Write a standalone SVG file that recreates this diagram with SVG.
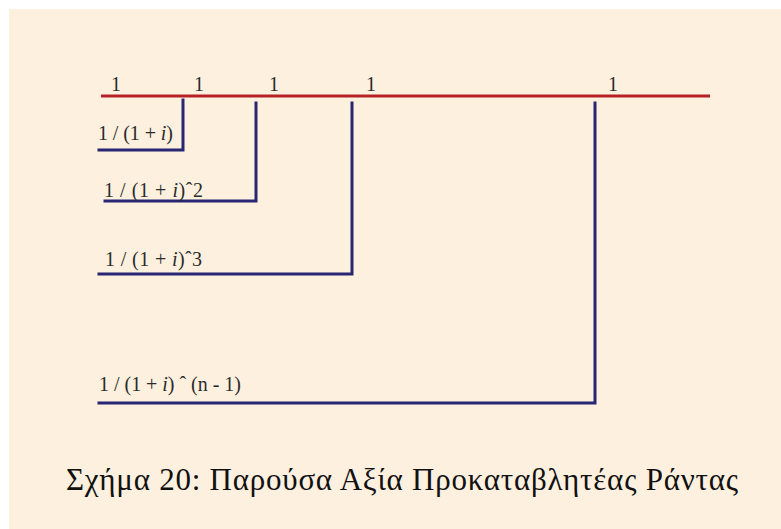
<svg xmlns="http://www.w3.org/2000/svg" width="781" height="529" viewBox="0 0 781 529">
<style>
.bg{fill:#fdf0df}
.red{stroke:#b52126;stroke-width:3;fill:none}
.blue{stroke:#282672;stroke-width:3;fill:none;stroke-linecap:square}
.lbl{font-family:"Liberation Serif","Times New Roman",serif;font-size:20px;fill:#2b2b2b}
.cap{font-family:"Liberation Serif","DejaVu Serif",serif;font-size:31px;fill:#111}
</style>
<rect x="0" y="0" width="781" height="529" fill="#ffffff"/>
<rect class="bg" x="9" y="9" width="772" height="520"/>
<g id="connectors">
<line class="red" x1="101" y1="96" x2="710" y2="96"/>
<polyline class="blue" points="183,100 183,150 99,150"/>
<polyline class="blue" points="256,103 256,201 105,201"/>
<polyline class="blue" points="352,103 352,274 99,274"/>
<polyline class="blue" points="595,103 595,403 99,403"/>
</g>
<g id="payments">
<text class="lbl" x="111" y="91">1</text>
<text class="lbl" x="194" y="91">1</text>
<text class="lbl" x="269" y="91">1</text>
<text class="lbl" x="366" y="91">1</text>
<text class="lbl" x="608" y="91">1</text>
</g>
<g id="label1"><text class="lbl" x="98" y="140" textLength="75">1 / (1 + <tspan font-style="italic">i</tspan>)</text></g>
<g id="label2"><text class="lbl" x="104" y="197" textLength="99">1 / (1 + <tspan font-style="italic">i</tspan>)ˆ2</text></g>
<g id="label3"><text class="lbl" x="105" y="266" textLength="97">1 / (1 + <tspan font-style="italic">i</tspan>)ˆ3</text></g>
<g id="label4"><text class="lbl" x="99" y="391" textLength="142">1 / (1 + <tspan font-style="italic">i</tspan>) ˆ (n - 1)</text></g>
<g id="caption"><text class="cap" x="66" y="490" textLength="672">Σχήμα 20: Παρούσα Αξία Προκαταβλητέας Ράντας</text></g>
</svg>
